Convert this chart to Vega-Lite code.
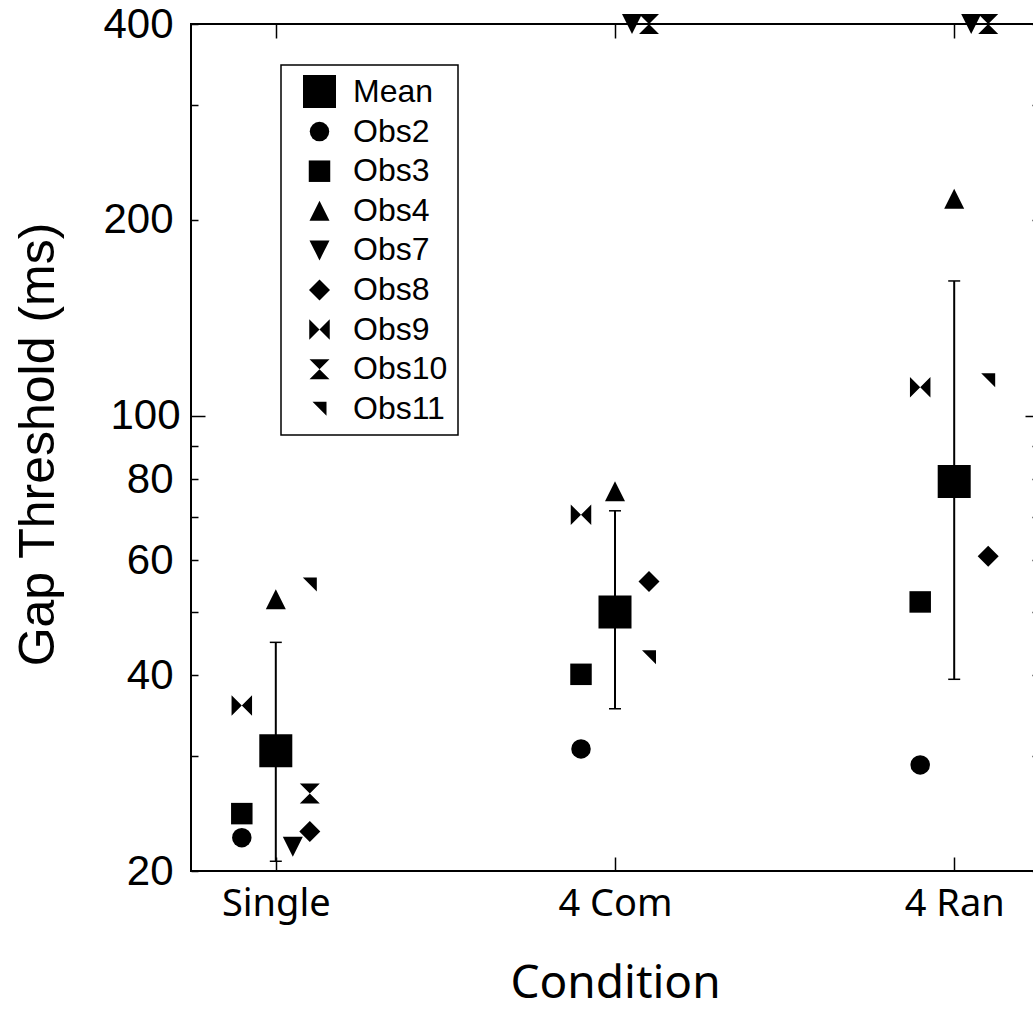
{
  "$schema": "https://vega.github.io/schema/vega-lite/v6.json",
  "width": 848,
  "height": 847,
  "autosize": {"type": "none"},
  "padding": {"left": 191, "top": 24, "right": 0, "bottom": 138},
  "background": "white",
  "config": {
    "font": "Liberation Sans",
    "view": {"stroke": "black", "strokeWidth": 2},
    "axis": {"grid": false, "domain": false, "tickColor": "black", "tickWidth": 1.5, "labelColor": "black", "titleColor": "black", "titleFontWeight": "normal"},
    "legend": {"strokeColor": "black", "strokeWidth": 1.5, "padding": 10, "symbolOffset": 12, "labelFontSize": 32, "labelFont": "Liberation Sans", "labelColor": "black", "rowPadding": 7.6, "labelOffset": 17, "symbolFillColor": "black", "symbolStrokeColor": "black", "symbolStrokeWidth": 0, "symbolOpacity": 1}
  },
  "datasets": {
    "points": [
      {"Condition": "Single", "Observer": "Mean", "slot": "C", "Threshold": 30.6},
      {"Condition": "Single", "Observer": "Obs2", "slot": "L", "Threshold": 22.5},
      {"Condition": "Single", "Observer": "Obs3", "slot": "L", "Threshold": 24.5},
      {"Condition": "Single", "Observer": "Obs4", "slot": "C", "Threshold": 52.3},
      {"Condition": "Single", "Observer": "Obs7", "slot": "M", "Threshold": 21.8},
      {"Condition": "Single", "Observer": "Obs8", "slot": "R", "Threshold": 23.0},
      {"Condition": "Single", "Observer": "Obs9", "slot": "L", "Threshold": 35.9},
      {"Condition": "Single", "Observer": "Obs10", "slot": "R", "Threshold": 26.3},
      {"Condition": "Single", "Observer": "Obs11", "slot": "R", "Threshold": 55.1},
      {"Condition": "4 Com", "Observer": "Mean", "slot": "C", "Threshold": 50.0},
      {"Condition": "4 Com", "Observer": "Obs2", "slot": "L", "Threshold": 30.8},
      {"Condition": "4 Com", "Observer": "Obs3", "slot": "L", "Threshold": 40.1},
      {"Condition": "4 Com", "Observer": "Obs4", "slot": "C", "Threshold": 76.6},
      {"Condition": "4 Com", "Observer": "Obs7", "slot": "M", "Threshold": 400},
      {"Condition": "4 Com", "Observer": "Obs8", "slot": "R", "Threshold": 55.7},
      {"Condition": "4 Com", "Observer": "Obs9", "slot": "L", "Threshold": 70.5},
      {"Condition": "4 Com", "Observer": "Obs10", "slot": "R", "Threshold": 400},
      {"Condition": "4 Com", "Observer": "Obs11", "slot": "R", "Threshold": 42.6},
      {"Condition": "4 Ran", "Observer": "Mean", "slot": "C", "Threshold": 79.3},
      {"Condition": "4 Ran", "Observer": "Obs2", "slot": "L", "Threshold": 29.1},
      {"Condition": "4 Ran", "Observer": "Obs3", "slot": "L", "Threshold": 51.8},
      {"Condition": "4 Ran", "Observer": "Obs4", "slot": "C", "Threshold": 215.6},
      {"Condition": "4 Ran", "Observer": "Obs7", "slot": "M", "Threshold": 400},
      {"Condition": "4 Ran", "Observer": "Obs8", "slot": "R", "Threshold": 60.9},
      {"Condition": "4 Ran", "Observer": "Obs9", "slot": "L", "Threshold": 110.7},
      {"Condition": "4 Ran", "Observer": "Obs10", "slot": "R", "Threshold": 400},
      {"Condition": "4 Ran", "Observer": "Obs11", "slot": "R", "Threshold": 113.5}
    ],
    "err": [
      {"Condition": "Single", "lo": 20.7, "hi": 44.9},
      {"Condition": "4 Com", "lo": 35.5, "hi": 71.5},
      {"Condition": "4 Ran", "lo": 39.4, "hi": 161.2}
    ]
  },
  "layer": [
    {
      "data": {"name": "err"},
      "mark": {"type": "rule", "color": "black", "strokeWidth": 2},
      "encoding": {
        "x": {"field": "Condition", "type": "nominal", "sort": ["Single", "4 Com", "4 Ran"],
              "scale": {"type": "point", "domain": ["Single", "4 Com", "4 Ran"], "padding": 0.25},
              "axis": {"orient": "top", "labels": false, "title": null, "tickSize": -14}},
        "y": {"field": "lo", "type": "quantitative", "scale": {"type": "log", "domain": [20, 400], "nice": false},
              "axis": {"orient": "right", "labels": false, "title": null, "values": [20, 30, 40, 50, 60, 70, 80, 90, 100, 200, 300, 400],
                       "tickSize": {"condition": {"test": "datum.value === 100", "value": -14}, "value": -7}}},
        "y2": {"field": "hi"}
      }
    },
    {
      "data": {"name": "err"},
      "mark": {"type": "tick", "color": "black", "thickness": 1.5, "size": 12, "opacity": 1},
      "encoding": {
        "x": {"field": "Condition", "type": "nominal", "scale": {"type": "point", "domain": ["Single", "4 Com", "4 Ran"], "padding": 0.25}, "axis": null},
        "y": {"field": "lo", "type": "quantitative", "scale": {"type": "log", "domain": [20, 400], "nice": false}, "axis": null}
      }
    },
    {
      "data": {"name": "err"},
      "mark": {"type": "tick", "color": "black", "thickness": 1.5, "size": 12, "opacity": 1},
      "encoding": {
        "x": {"field": "Condition", "type": "nominal", "scale": {"type": "point", "domain": ["Single", "4 Com", "4 Ran"], "padding": 0.25}, "axis": null},
        "y": {"field": "hi", "type": "quantitative", "scale": {"type": "log", "domain": [20, 400], "nice": false}, "axis": null}
      }
    },
    {
      "data": {"name": "points"},
      "mark": {"type": "point", "filled": true, "color": "black", "opacity": 1, "strokeWidth": 0},
      "encoding": {
        "x": {"field": "Condition", "type": "nominal", "scale": {"type": "point", "domain": ["Single", "4 Com", "4 Ran"], "padding": 0.25},
              "axis": {"orient": "bottom", "title": "Condition", "labelFont": "Noto Sans", "labelFontSize": 38, "labelAngle": 0, "tickSize": -14, "labelPadding": 28,
                       "titleFont": "Noto Sans", "titleFontSize": 46, "titleX": 424, "titleY": 126, "titleBaseline": "alphabetic", "titleAlign": "center"}},
        "xOffset": {"field": "slot", "type": "nominal", "scale": {"type": "point", "domain": ["L", "l", "C", "M", "R"], "range": [-34, 34], "padding": 0}},
        "y": {"field": "Threshold", "type": "quantitative", "scale": {"type": "log", "domain": [20, 400], "nice": false},
              "axis": {"orient": "left", "title": "Gap Threshold (ms)", "values": [20, 30, 40, 50, 60, 70, 80, 90, 100, 200, 300, 400],
                       "labelExpr": "indexof([20,40,60,80,100,200,400], datum.value) >= 0 ? format(datum.value, 'd') : ''",
                       "labelFontSize": 42, "labelPadding": 25,
                       "tickSize": {"condition": {"test": "datum.value === 100", "value": -14}, "value": -7},
                       "titleFontSize": 50, "titleX": -138, "titleY": 420, "titleAngle": -90, "titleBaseline": "alphabetic", "titleAlign": "center"}},
        "shape": {"field": "Observer", "type": "nominal",
                  "scale": {"domain": ["Mean", "Obs2", "Obs3", "Obs4", "Obs7", "Obs8", "Obs9", "Obs10", "Obs11"],
                            "range": ["square", "circle", "square", "M0,-1L1,1L-1,1Z", "M-1,-1L1,-1L0,1Z", "diamond", "M-1,-1L0,0L-1,1ZM1,-1L0,0L1,1Z", "M-1,-1L1,-1L0,0ZM-1,1L1,1L0,0Z", "M-1,-1L1,-1L1,1Z"]},
                  "legend": {"title": null, "orient": "none", "legendX": 90, "legendY": 41}},
        "size": {"field": "Observer", "type": "nominal",
                 "scale": {"type": "ordinal", "domain": ["Mean", "Obs2", "Obs3", "Obs4", "Obs7", "Obs8", "Obs9", "Obs10", "Obs11"],
                           "range": [1089, 380, 462, 400, 400, 441, 420, 400, 196]},
                 "legend": {"title": null, "orient": "none", "legendX": 90, "legendY": 41}}
      }
    }
  ],
  "resolve": {"axis": {"x": "independent", "y": "independent"}}
}
